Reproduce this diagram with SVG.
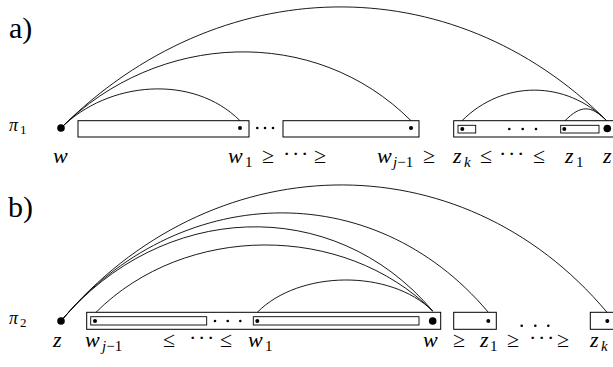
<svg xmlns="http://www.w3.org/2000/svg" width="613" height="367" viewBox="0 0 613 367">
<style>
.box{fill:#fff;stroke:#000;stroke-width:1}
.ibox{fill:#fff;stroke:#000;stroke-width:0.9}
.big{fill:#000}
.sm{fill:#000}
.arc{fill:none;stroke:#000;stroke-width:0.9}
text{font-family:'Liberation Serif','Times New Roman',Tinos,'DejaVu Serif','Noto Serif',serif;fill:#000}
.lb{font-size:22px}
.it{font-style:italic}
.sub{font-size:15px}
.pan{font-size:30px}
.pi{font-size:18px;font-style:italic}
.pis{font-size:13px}
</style>
<rect width="613" height="367" fill="#fff"/>

<!-- Panel a -->
<text class="pan" x="9" y="38">a)</text>
<g id="pi1"><text class="pi" x="9" y="131">π</text><text class="pis" x="20" y="134">1</text></g>

<g id="connectors-a">
<path class="arc" d="M61,128 C108,81 193,73.7 240,120.7"/>
<path class="arc" d="M61,128 C157.5,31.5 314.5,24.2 411,120.7"/>
<path class="arc" d="M61,128 C217.7,-28.7 450.3,-35.7 607,121"/>
<path class="arc" d="M607,121 C566,80 503,79.8 462,120.7"/>
<path class="arc" d="M607,121 C591,105 581,104.7 565,120.7"/>
</g>

<g id="node-a-w"><circle class="big" cx="61" cy="128" r="3.8"/></g>
<g id="node-a-w1"><rect class="box" x="78" y="120.7" width="171" height="16.3"/><circle class="sm" cx="240" cy="128" r="2"/></g>
<g id="node-a-dots1"><circle class="sm" cx="257.3" cy="128" r="1.3"/><circle class="sm" cx="265" cy="128" r="1.3"/><circle class="sm" cx="273" cy="128" r="1.3"/></g>
<g id="node-a-wj1"><rect class="box" x="283" y="120.7" width="136" height="16.3"/><circle class="sm" cx="411" cy="128" r="2"/></g>
<g id="node-a-zgroup">
<rect class="box" x="453.7" y="120.7" width="162" height="16.3"/>
<rect class="ibox" x="458" y="125.3" width="17.7" height="7.7"/><circle class="sm" cx="462.3" cy="129" r="2"/>
<circle class="sm" cx="509.3" cy="129" r="1.3"/><circle class="sm" cx="522.7" cy="129" r="1.3"/><circle class="sm" cx="536" cy="129" r="1.3"/>
<rect class="ibox" x="560.7" y="125.3" width="38.3" height="7.7"/><circle class="sm" cx="564.3" cy="129" r="2"/>
<circle class="big" cx="607.3" cy="128.5" r="3.8"/>
</g>

<g id="labels-a">
<text class="lb it" x="53" y="163">w</text>
<text class="lb it" x="228" y="163">w</text><text class="sub" x="245" y="167">1</text>
<text class="lb" x="262" y="163">≥</text>
<text class="lb" x="283" y="161">·<tspan x="292">·</tspan><tspan x="301">·</tspan></text>
<text class="lb" x="314" y="163">≥</text>
<text class="lb it" x="377" y="163">w</text><text class="sub" x="393" y="167"><tspan font-style="italic">j</tspan>−1</text>
<text class="lb" x="423" y="163">≥</text>
<text class="lb it" x="453" y="163">z</text><text class="sub it" x="464" y="167">k</text>
<text class="lb" x="480" y="163">≤</text>
<text class="lb" x="499" y="161">·<tspan x="508">·</tspan><tspan x="517">·</tspan></text>
<text class="lb" x="533" y="163">≤</text>
<text class="lb it" x="565" y="163">z</text><text class="sub" x="576" y="167">1</text>
<text class="lb it" x="603" y="163">z</text>
</g>

<!-- Panel b -->
<text class="pan" x="8" y="217">b)</text>
<g id="pi2"><text class="pi" x="9" y="324">π</text><text class="pis" x="20" y="327">2</text></g>

<g id="connectors-b">
<path class="arc" d="M61,321 C208.4,145.5 459.6,136.8 607,312.3"/>
<path class="arc" d="M61,321 C177,182.8 372,174.1 488.3,312.3"/>
<path class="arc" d="M61,321 C160.7,202.3 332.3,192.3 432.7,311"/>
<path class="arc" d="M96,312.3 C184.9,223.4 343.1,222.1 432.7,311"/>
<path class="arc" d="M257.3,312.3 C299,270.1 390,268.8 432.7,311"/>
</g>

<g id="node-b-z"><circle class="big" cx="61" cy="321" r="3.8"/></g>
<g id="node-b-wgroup">
<rect class="box" x="86.7" y="312.3" width="354" height="17"/>
<rect class="ibox" x="90.7" y="316.7" width="116" height="8.3"/><circle class="sm" cx="95" cy="321" r="2"/>
<circle class="sm" cx="215" cy="321" r="1.3"/><circle class="sm" cx="227.7" cy="321" r="1.3"/><circle class="sm" cx="240.3" cy="321" r="1.3"/>
<rect class="ibox" x="253.3" y="316.7" width="165.7" height="8.3"/><circle class="sm" cx="257.3" cy="321" r="2"/>
<circle class="big" cx="432.7" cy="321" r="3.8"/>
</g>
<g id="node-b-z1"><rect class="box" x="453.7" y="312.3" width="42.6" height="17"/><circle class="sm" cx="488.3" cy="321" r="2"/></g>
<g id="node-b-dots"><circle class="sm" cx="521.7" cy="325.7" r="1.3"/><circle class="sm" cx="535.3" cy="325.7" r="1.3"/><circle class="sm" cx="548.3" cy="325.7" r="1.3"/></g>
<g id="node-b-zk"><rect class="box" x="590.3" y="312.3" width="30" height="17"/><circle class="sm" cx="607.3" cy="321" r="2"/></g>

<g id="labels-b">
<text class="lb it" x="53" y="347">z</text>
<text class="lb it" x="85" y="347">w</text><text class="sub" x="102" y="351"><tspan font-style="italic">j</tspan>−1</text>
<text class="lb" x="163" y="347">≤</text>
<text class="lb" x="189" y="345">·<tspan x="198">·</tspan><tspan x="207">·</tspan></text>
<text class="lb" x="220" y="347">≤</text>
<text class="lb it" x="248" y="347">w</text><text class="sub" x="265" y="351">1</text>
<text class="lb it" x="423" y="347">w</text>
<text class="lb" x="453" y="347">≥</text>
<text class="lb it" x="480" y="347">z</text><text class="sub" x="490" y="351">1</text>
<text class="lb" x="507" y="347">≥</text>
<text class="lb" x="529" y="345">·<tspan x="538">·</tspan><tspan x="547">·</tspan></text>
<text class="lb" x="557" y="347">≥</text>
<text class="lb it" x="590" y="347">z</text><text class="sub it" x="601" y="351">k</text>
</g>
</svg>
